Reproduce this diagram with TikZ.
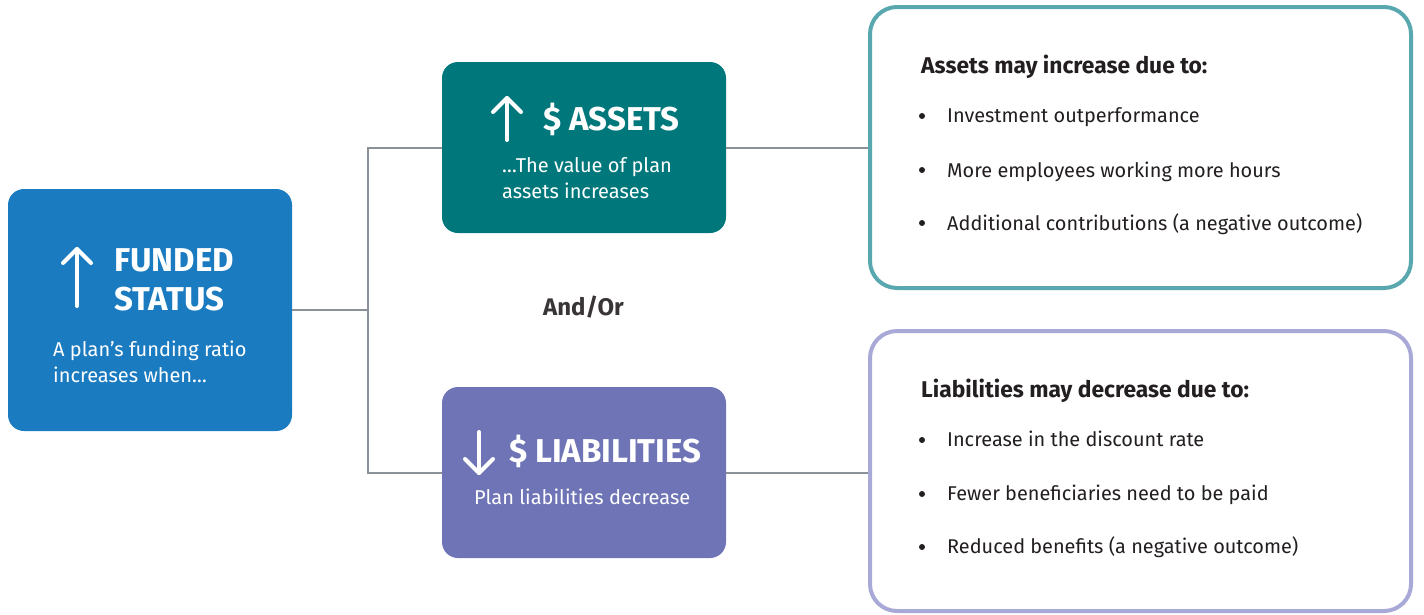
\documentclass[tikz,border=0pt]{standalone}
\usepackage{fontspec}
\setmainfont{Fira Sans}
\begin{document}
\begin{tikzpicture}[x=1pt,y=-1pt,
  box/.style={rectangle,rounded corners=16pt,inner sep=0pt,draw=none},
  listbox/.style={rectangle,rounded corners=27pt,inner sep=0pt,line width=4pt,fill=white},
  wire/.style={draw=wiregray,line width=2pt},
  icon/.style={draw=white,line width=4pt,line cap=round,line join=round},
  title/.style={inner sep=0pt,anchor=base west,text=white,font=\fontsize{33}{35}\selectfont\bfseries},
  sub/.style={inner sep=0pt,anchor=base west,text=white,font=\fontsize{20}{26}\selectfont},
  head/.style={inner sep=0pt,anchor=base west,text=ink,font=\fontsize{22.8}{26}\selectfont\bfseries},
  item/.style={inner sep=0pt,anchor=base west,text=ink,font=\fontsize{19.9}{24}\selectfont},
  dot/.style={circle,fill=ink,inner sep=0pt,minimum size=6pt}]
\definecolor{fundblue}{HTML}{1B7BC0}
\definecolor{assetteal}{HTML}{00777B}
\definecolor{liabpurple}{HTML}{6E74B5}
\definecolor{wiregray}{HTML}{8A9199}
\definecolor{tealline}{HTML}{5AA8AF}
\definecolor{lavline}{HTML}{A9A9D8}
\definecolor{ink}{HTML}{231F20}

\useasboundingbox (0,0) rectangle (1424,614);

% main boxes
\node[box,fill=fundblue,minimum width=284pt,minimum height=242pt] (fund) at (150,310) {};
\node[box,fill=assetteal,minimum width=284pt,minimum height=171pt] (assets) at (584,147.5) {};
\node[box,fill=liabpurple,minimum width=284pt,minimum height=171pt] (liab) at (584,472.5) {};

% detail boxes
\node[listbox,draw=tealline,minimum width=541pt,minimum height=281pt] (assetlist) at (1140.5,147.5) {};
\node[listbox,draw=lavline,minimum width=541pt,minimum height=280pt] (liablist) at (1140.5,471) {};

% connectors
\coordinate (split) at (368,310);
\draw[wire] (fund.east) -- (split);
\draw[wire] (assets.west) -| (split) |- (liab.west);
\draw[wire] (assets.east) -- (assets.east -| assetlist.west);
\draw[wire] (liab.east) -- (liab.east -| liablist.west);

% funded status
\draw[icon] (77,306) -- (77,249);
\draw[icon] (63,263) -- (77,249) -- (91,263);
\node[title] (fundt1) at (114,271) {FUNDED};
\node[title] (fundt2) at (114,310) {STATUS};
\node[sub] (funds1) at (53,356) {A plan’s funding ratio};
\node[sub] (funds2) at (53,382) {increases when…};

% assets
\draw[icon] (507,140) -- (507,98);
\draw[icon] (493,112) -- (507,98) -- (521,112);
\node[title] (assett) at (543,130) {\$ ASSETS};
\node[sub] (assets1) at (502,172) {…The value of plan};
\node[sub] (assets2) at (502,198) {assets increases};

% liabilities
\draw[icon] (479,432) -- (479,473);
\draw[icon] (465,459) -- (479,473) -- (493,459);
\node[title] (liabt) at (509,462) {\$ LIABILITIES};
\node[sub] (liabs1) at (474,504) {Plan liabilities decrease};

% and/or
\node[inner sep=0pt,anchor=base west,text=ink!90,font=\fontsize{24}{28}\selectfont\bfseries] (andor) at (543,315) {And/Or};

% asset reasons
\node[head] (ahead) at (921,73) {Assets may increase due to:};
\node[dot] (ad1) at (922,116) {};
\node[dot] (ad2) at (922,170) {};
\node[dot] (ad3) at (922,223) {};
\node[item] (a1) at (947,122) {Investment outperformance};
\node[item] (a2) at (947,177) {More employees working more hours};
\node[item] (a3) at (947,230) {Additional contributions (a negative outcome)};

% liability reasons
\node[head] (lhead) at (921,397) {Liabilities may decrease due to:};
\node[dot] (ld1) at (922,440) {};
\node[dot] (ld2) at (922,494) {};
\node[dot] (ld3) at (922,547) {};
\node[item] (l1) at (947,446) {Increase in the discount rate};
\node[item] (l2) at (947,500) {Fewer beneficiaries need to be paid};
\node[item] (l3) at (947,553) {Reduced benefits (a negative outcome)};
\end{tikzpicture}
\end{document}
